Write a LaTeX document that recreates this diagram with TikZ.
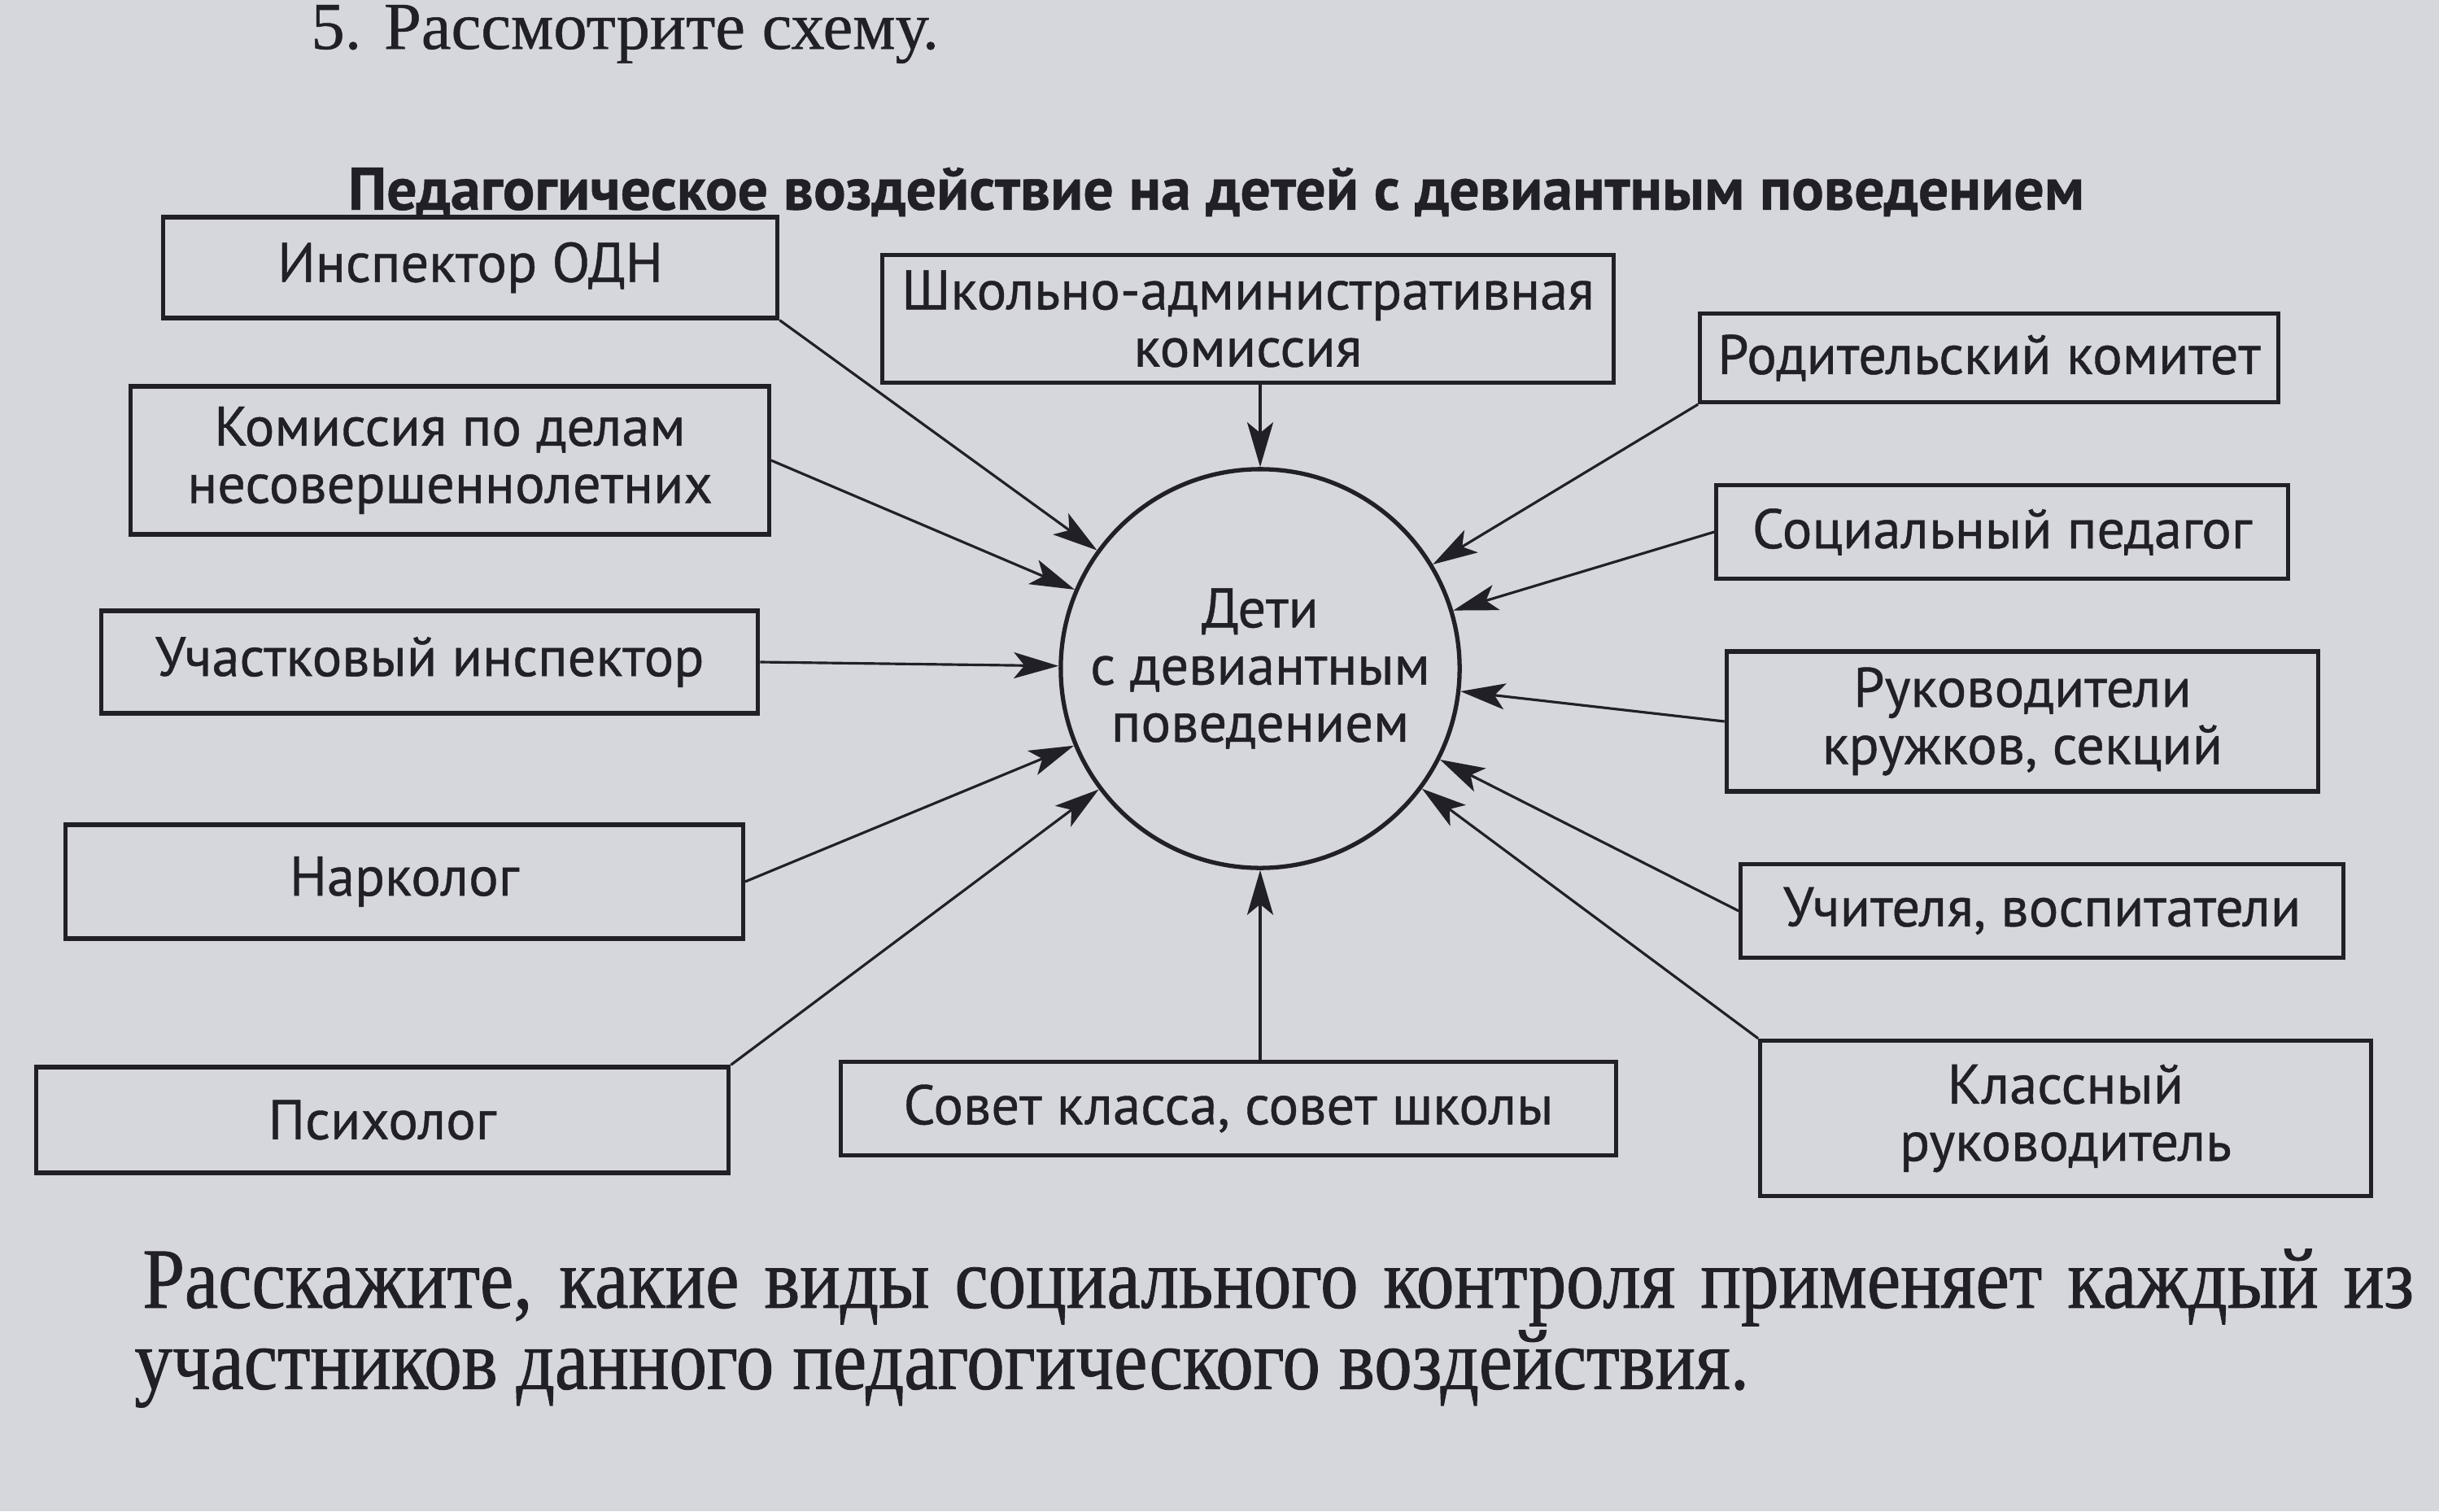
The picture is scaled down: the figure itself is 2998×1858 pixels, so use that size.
\documentclass[tikz,border=0pt]{standalone}
\usepackage{fontspec}
\setmainfont{PT Sans}[FakeBold=0.6]
\newfontfamily\bookfont{Liberation Serif}[FakeBold=0.6]
\newfontfamily\bookfontc{Liberation Serif}[FakeStretch=0.88,FakeBold=0.9]
\usetikzlibrary{arrows.meta}
\usetikzlibrary{positioning}

\definecolor{paper}{RGB}{214,214,221}
\definecolor{ink}{RGB}{32,32,38}

\tikzset{
  box/.style={draw=ink, line width=1.5pt, align=center, text=ink, inner sep=0pt,
    font=\fontsize{19.5}{20}\selectfont},
  arr/.style={draw=ink, line width=0.9pt, -{Stealth[length=0.55cm,width=0.32cm,inset=0.13cm]}},
}

\begin{document}
\begin{tikzpicture}[x=0.01cm,y=-0.01cm]
\fill [paper] (0,0) rectangle (2998,1858);
\useasboundingbox (0,0) rectangle (2998,1858);

\node [text=ink,anchor=west,font=\bookfont\fontsize{23.5}{26}\selectfont] (task) at (370,42) {5. Рассмотрите схему.};
\node [text=ink,font=\bfseries\fontsize{21}{22}\selectfont] (title) at (1495,236) {Педагогическое воздействие на детей с девиантным поведением};

\node [box, circle, minimum size=4.9cm] (child) at (1549,822) {Дети\\с девиантным\\поведением};

\node [box, minimum width=7.55cm, minimum height=1.24cm] (odn) at (578,329) {Инспектор ОДН};
\node [box, minimum width=7.84cm, minimum height=1.82cm] (kdn) at (553,566) {Комиссия по делам\\несовершеннолетних};
\node [box, minimum width=8.07cm, minimum height=1.26cm] (uch) at (528,814) {Участковый инспектор};
\node [box, minimum width=8.32cm, minimum height=1.40cm] (nark) at (497,1084) {Нарколог};
\node [box, minimum width=8.51cm, minimum height=1.30cm] (psih) at (470,1377) {Психолог};

\node [box, minimum width=8.99cm, minimum height=1.57cm] (shk) at (1534,392) {Школьно-административная\\комиссия};
\node [box, minimum width=9.52cm, minimum height=1.15cm] (sovet) at (1510,1363) {Совет класса, совет школы};

\node [box, minimum width=7.1cm, minimum height=1.09cm] (rod) at (2445,440) {Родительский комитет};
\node [box, minimum width=7.02cm, minimum height=1.15cm] (soc) at (2461,654) {Социальный педагог};
\node [box, minimum width=7.27cm, minimum height=1.72cm] (ruk) at (2486,887) {Руководители\\кружков, секций};
\node [box, minimum width=7.40cm, minimum height=1.15cm] (uchit) at (2510,1120) {Учителя, воспитатели};
\node [box, minimum width=7.50cm, minimum height=1.91cm] (klass) at (2539,1375) {Классный\\руководитель};

\draw [arr] (odn.south east) -- (child);
\draw [arr] (kdn.east) -- (child);
\draw [arr] (uch.east) -- (child);
\draw [arr] (nark.east) -- (child);
\draw [arr] (psih.north east) -- (child);
\draw [arr] (shk.south -| child) -- (child.north);
\draw [arr] (sovet.north -| child) -- (child.south);
\draw [arr] (rod.south west) -- (child);
\draw [arr] (soc.west) -- (child);
\draw [arr] (ruk.west) -- (child);
\draw [arr] (uchit.west) -- (child);
\draw [arr] (klass.north west) -- (child);

\node [text=ink,anchor=west,font=\bookfontc\fontsize{30}{34}\selectfont] (q1) at (163,1583) {\makebox[27.9cm][s]{Расскажите, какие виды социального контроля применяет каждый из}};
\node [text=ink,anchor=west,font=\bookfontc\fontsize{30}{34}\selectfont] (q2) at (153,1683) {участников данного педагогического воздействия.};
\end{tikzpicture}
\end{document}
